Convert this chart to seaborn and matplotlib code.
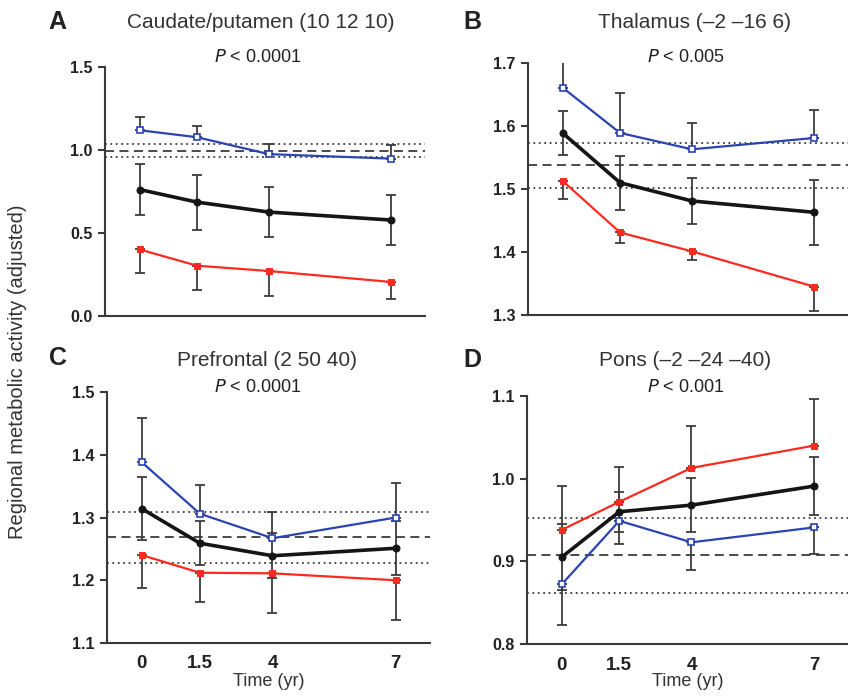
import numpy as np
import pandas as pd
import matplotlib
matplotlib.use("Agg")
import matplotlib.pyplot as plt
import seaborn as sns

# ---------------- data ----------------
time_labels = ["0", "1.5", "4", "7"]
time_axis = [0, 1.6, 3.6, 7]  # scaled placement of the visits on the time axis

panel_letters = ["A", "B", "C", "D"]
panel_titles = ["Caudate/putamen (10 12 10)", "Thalamus (–2 –16 6)",
                "Prefrontal (2 50 40)", "Pons (–2 –24 –40)"]
panel_p = ["0.0001", "0.005", "0.0001", "0.001"]
panel_ylim = [(0.0, 1.5), (1.3, 1.7), (1.1, 1.5), (0.8, 1.1)]
panel_yticks = [[0.0, 0.5, 1.0, 1.5], [1.3, 1.4, 1.5, 1.6, 1.7],
                [1.1, 1.2, 1.3, 1.4, 1.5], [0.8, 0.9, 1.0, 1.1]]

# control mean and +/- band
ctrl_mean = [0.995, 1.538, 1.269, 0.908]
ctrl_hi = [1.035, 1.573, 1.309, 0.952]
ctrl_lo = [0.955, 1.501, 1.228, 0.862]

# black: overall mean (two-sided error)
black_vals = [[0.762, 0.686, 0.626, 0.578],
              [1.589, 1.510, 1.481, 1.463],
              [1.314, 1.259, 1.239, 1.251],
              [0.905, 0.960, 0.968, 0.991]]
black_err = [[0.154, 0.165, 0.152, 0.152],
             [0.035, 0.043, 0.037, 0.052],
             [0.050, 0.035, 0.036, 0.043],
             [0.040, 0.024, 0.033, 0.035]]

# blue: open squares (one-sided error)
blue_vals = [[1.119, 1.077, 0.975, 0.948],
             [1.661, 1.589, 1.563, 1.581],
             [1.388, 1.306, 1.267, 1.300],
             [0.872, 0.949, 0.923, 0.941]]
blue_err = [[0.082, 0.070, 0.064, 0.081],
            [0.040, 0.063, 0.042, 0.045],
            [0.071, 0.046, 0.042, 0.055],
            [0.049, 0.028, 0.034, 0.032]]
blue_dir = [1, 1, 1, -1]

# red: filled squares (one-sided error)
red_vals = [[0.401, 0.303, 0.271, 0.205],
            [1.513, 1.431, 1.401, 1.345],
            [1.240, 1.212, 1.211, 1.200],
            [0.938, 0.972, 1.013, 1.040]]
red_err = [[0.140, 0.147, 0.151, 0.101],
           [0.029, 0.016, 0.014, 0.039],
           [0.052, 0.046, 0.063, 0.064],
           [0.053, 0.042, 0.051, 0.056]]
red_dir = [-1, -1, -1, 1]

# ---------------- style ----------------
sns.set_style("ticks")
plt.rcParams['font.family'] = ['Liberation Sans', 'DejaVu Sans']
plt.rcParams['axes.linewidth'] = 1.5

BLUE = "#2a44b0"
RED = "#ff2a1f"
BLACK = "#151515"
GREY = "#3c3c3c"
SPINE = "#3a3a3a"

fig = plt.figure(figsize=(8.48, 7.0), dpi=100)
W, H = 848, 700
boxes = [(105, 67, 425, 316), (528, 63, 848, 315),
         (107, 392, 430, 643), (527, 396, 848, 644)]
letter_xy = [(48, 22), (463, 22), (49, 358), (463, 360)]
title_xy = [(261, 23), (695, 23), (267, 361), (685, 361)]
p_xy = [(258, 58), (686, 58), (258, 388), (686, 388)]

for i in range(4):
    l, t, r, b = boxes[i]
    ax = fig.add_axes([l / W, 1 - b / H, (r - l) / W, (b - t) / H])

    xs = time_axis
    # control reference lines
    ax.axhline(ctrl_mean[i], color=GREY, lw=1.3, ls=(0, (5, 3)), zorder=1)
    ax.axhline(ctrl_hi[i], color=GREY, lw=1.3, ls=(0, (1, 2)), zorder=1)
    ax.axhline(ctrl_lo[i], color=GREY, lw=1.3, ls=(0, (1, 2)), zorder=1)

    df = pd.DataFrame({
        "x": xs * 3,
        "y": blue_vals[i] + red_vals[i] + black_vals[i],
        "grp": ["blue"] * 4 + ["red"] * 4 + ["black"] * 4,
    })

    # error bars
    be = np.array(blue_err[i])
    re = np.array(red_err[i])
    zero = np.zeros(4)
    blue_yerr = [be, zero] if blue_dir[i] < 0 else [zero, be]
    red_yerr = [re, zero] if red_dir[i] < 0 else [zero, re]
    for vals, yerr in ((blue_vals[i], blue_yerr), (red_vals[i], red_yerr),
                       (black_vals[i], black_err[i])):
        ax.errorbar(xs, vals, yerr=yerr, fmt="none", ecolor=GREY,
                    elinewidth=1.3, capsize=3.5, capthick=1.3, zorder=2)

    sns.lineplot(data=df[df.grp == "blue"], x="x", y="y", ax=ax, color=BLUE,
                 lw=1.6, marker="s", markersize=5, markerfacecolor="white",
                 markeredgecolor=BLUE, markeredgewidth=1.2, zorder=3,
                 legend=False)
    sns.lineplot(data=df[df.grp == "red"], x="x", y="y", ax=ax, color=RED,
                 lw=1.6, marker="s", markersize=5, markerfacecolor=RED,
                 markeredgecolor=RED, zorder=3, legend=False)
    sns.lineplot(data=df[df.grp == "black"], x="x", y="y", ax=ax, color=BLACK,
                 lw=2.6, marker="o", markersize=5, markerfacecolor=BLACK,
                 markeredgecolor=BLACK, zorder=4, legend=False)

    ax.set_xlim(-0.96, 7.94)
    ax.set_ylim(*panel_ylim[i])
    ax.set_yticks(panel_yticks[i])
    ax.set_yticklabels([f"{v:.1f}" for v in panel_yticks[i]],
                       fontweight="bold", fontsize=11.5)
    ax.set_xlabel("")
    ax.set_ylabel("")
    sns.despine(ax=ax)
    ax.spines["left"].set_color(SPINE)
    ax.spines["bottom"].set_color(SPINE)
    ax.tick_params(axis="y", length=5, width=1.5, color=SPINE, pad=4,
                   labelcolor="#222222")
    ax.tick_params(axis="x", length=0)
    if i >= 2:
        ax.set_xticks(xs)
        ax.set_xticklabels(time_labels, fontweight="bold", fontsize=13.5,
                           color="#222222")
        ax.tick_params(axis="x", pad=9)
        ax.set_xlabel("Time (yr)", fontsize=13, color="#333333", labelpad=0)
    else:
        ax.set_xticks([])

    lx, ly = letter_xy[i]
    fig.text(lx / W, 1 - ly / H, panel_letters[i], fontsize=18,
             fontweight="bold", color="#222222", ha="left", va="center")
    tx, ty = title_xy[i]
    fig.text(tx / W, 1 - ty / H, panel_titles[i], fontsize=15,
             color="#333333", ha="center", va="center")
    px, py = p_xy[i]
    fig.text(px / W, 1 - py / H, "$\\it{P}$ < " + panel_p[i], fontsize=13,
             color="#222222", ha="center", va="center")

fig.text(18 / W, 1 - 372 / H, "Regional metabolic activity (adjusted)",
         rotation=90, fontsize=14.5, color="#333333", ha="center", va="center")

fig.savefig("out.png", dpi=100)
